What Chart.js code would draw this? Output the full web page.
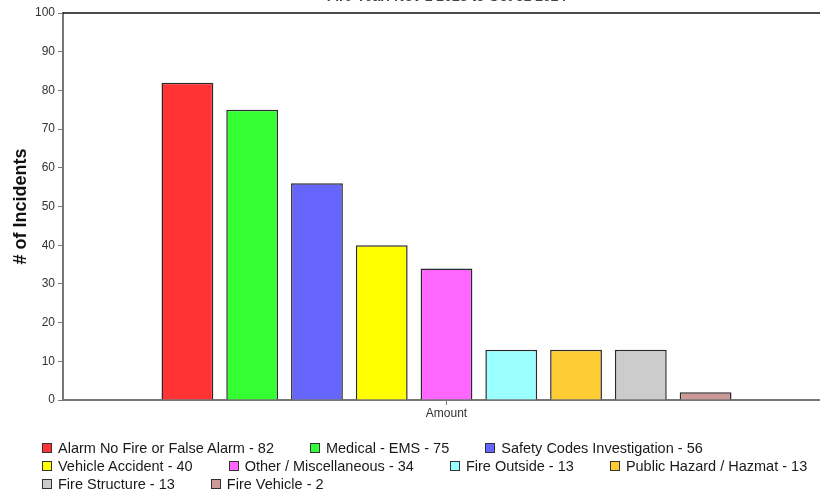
<!DOCTYPE html>
<html>
<head>
<meta charset="utf-8">
<script src="https://cdn.jsdelivr.net/npm/chart.js@4.4.1/dist/chart.umd.min.js"></script>
<style>
  html, body { margin: 0; padding: 0; background: #fff; overflow: hidden; }
  #wrap { position: relative; width: 830px; height: 495px; }
  #legend {
    position: absolute; left: 42px; top: 439px; width: 790px;
    display: flex; flex-wrap: wrap; column-gap: 36px; row-gap: 0;
    font: 14.5px "Liberation Sans", Arial, sans-serif; line-height: 18px; color: #1a1a1a;
  }
  .item { display: flex; align-items: center; white-space: nowrap; }
  .box { width: 10px; height: 10px; box-sizing: border-box; border: 1px solid #333; margin-right: 6px; }
</style>
</head>
<body>
<div id="wrap">
  <canvas id="chart" width="830" height="495"></canvas>
  <div id="legend"></div>
</div>
<script>
const chartTitle = 'Fire Year: Nov 1 2023 to Oct 31 2024';
const categories = ['Amount'];
const seriesNames = [
  'Alarm No Fire or False Alarm',
  'Medical - EMS',
  'Safety Codes Investigation',
  'Vehicle Accident',
  'Other / Miscellaneous',
  'Fire Outside',
  'Public Hazard / Hazmat',
  'Fire Structure',
  'Fire Vehicle'
];
const seriesValues = [82, 75, 56, 40, 34, 13, 13, 13, 2];
const seriesColors = ['#FF3333', '#33FF33', '#6666FF', '#FFFF00', '#FF66FF', '#99FFFF', '#FFCC33', '#CCCCCC', '#CC9999'];
const yMin = 0, yMax = 100, yStep = 10;

const FONT = '"Liberation Sans", Arial, sans-serif';

// Title sits above the frame and the top border of the plot
const titlePlugin = {
  id: 'topTitle',
  afterDraw(chart) {
    const { ctx, chartArea } = chart;
    ctx.save();
    ctx.font = 'bold 14px ' + FONT;
    ctx.fillStyle = '#444';
    ctx.textAlign = 'center';
    ctx.textBaseline = 'alphabetic';
    ctx.fillText(chartTitle, (chartArea.left + chartArea.right) / 2, 1);
    ctx.restore();
  }
};

// Dark frame along the top and right of the plot area
const framePlugin = {
  id: 'frame',
  afterDraw(chart) {
    const { ctx, chartArea: a } = chart;
    ctx.save();
    ctx.strokeStyle = '#111';
    ctx.lineWidth = 1.5;
    ctx.beginPath();
    ctx.moveTo(a.left, a.top);
    ctx.lineTo(a.right, a.top);
    ctx.lineTo(a.right, a.bottom);
    ctx.stroke();
    ctx.restore();
  }
};

const datasets = seriesNames.map((name, i) => ({
  label: name + ' - ' + seriesValues[i],
  data: [seriesValues[i]],
  backgroundColor: seriesColors[i],
  borderColor: '#2a2a2a',
  borderWidth: 1.5,
  categoryPercentage: 0.76,
  barPercentage: 0.8
}));

const chart = new Chart(document.getElementById('chart'), {
  type: 'bar',
  data: { labels: categories, datasets },
  options: {
    responsive: false,
    animation: false,
    devicePixelRatio: 1,
    layout: { padding: { top: 13, left: 0, right: 0, bottom: 75 } },
    plugins: { legend: { display: false }, title: { display: false }, tooltip: { enabled: false } },
    scales: {
      x: {
        grid: { display: true, drawOnChartArea: false, offset: false, tickLength: 5, color: '#777' },
        border: { color: '#777', width: 2 },
        ticks: { color: '#333', font: { family: FONT, size: 12 }, padding: 1 },
        afterFit(s) { s.height = 20; }
      },
      y: {
        min: yMin, max: yMax,
        grid: { display: true, drawOnChartArea: false, tickLength: 5, color: '#777' },
        border: { color: '#777', width: 2 },
        ticks: { stepSize: yStep, color: '#333', font: { family: FONT, size: 12 }, padding: 3 },
        title: { display: true, text: '# of Incidents', color: '#111', font: { family: FONT, size: 18, weight: 'bold' }, padding: { top: 10, bottom: 0 } },
        afterFit(s) { s.width = 63; }
      }
    }
  },
  plugins: [titlePlugin, framePlugin]
});

// Legend rows built from the chart's datasets
const legend = document.getElementById('legend');
chart.data.datasets.forEach(ds => {
  const item = document.createElement('div');
  item.className = 'item';
  const box = document.createElement('span');
  box.className = 'box';
  box.style.background = ds.backgroundColor;
  const txt = document.createElement('span');
  txt.textContent = ds.label;
  item.appendChild(box);
  item.appendChild(txt);
  legend.appendChild(item);
});
</script>
</body>
</html>
